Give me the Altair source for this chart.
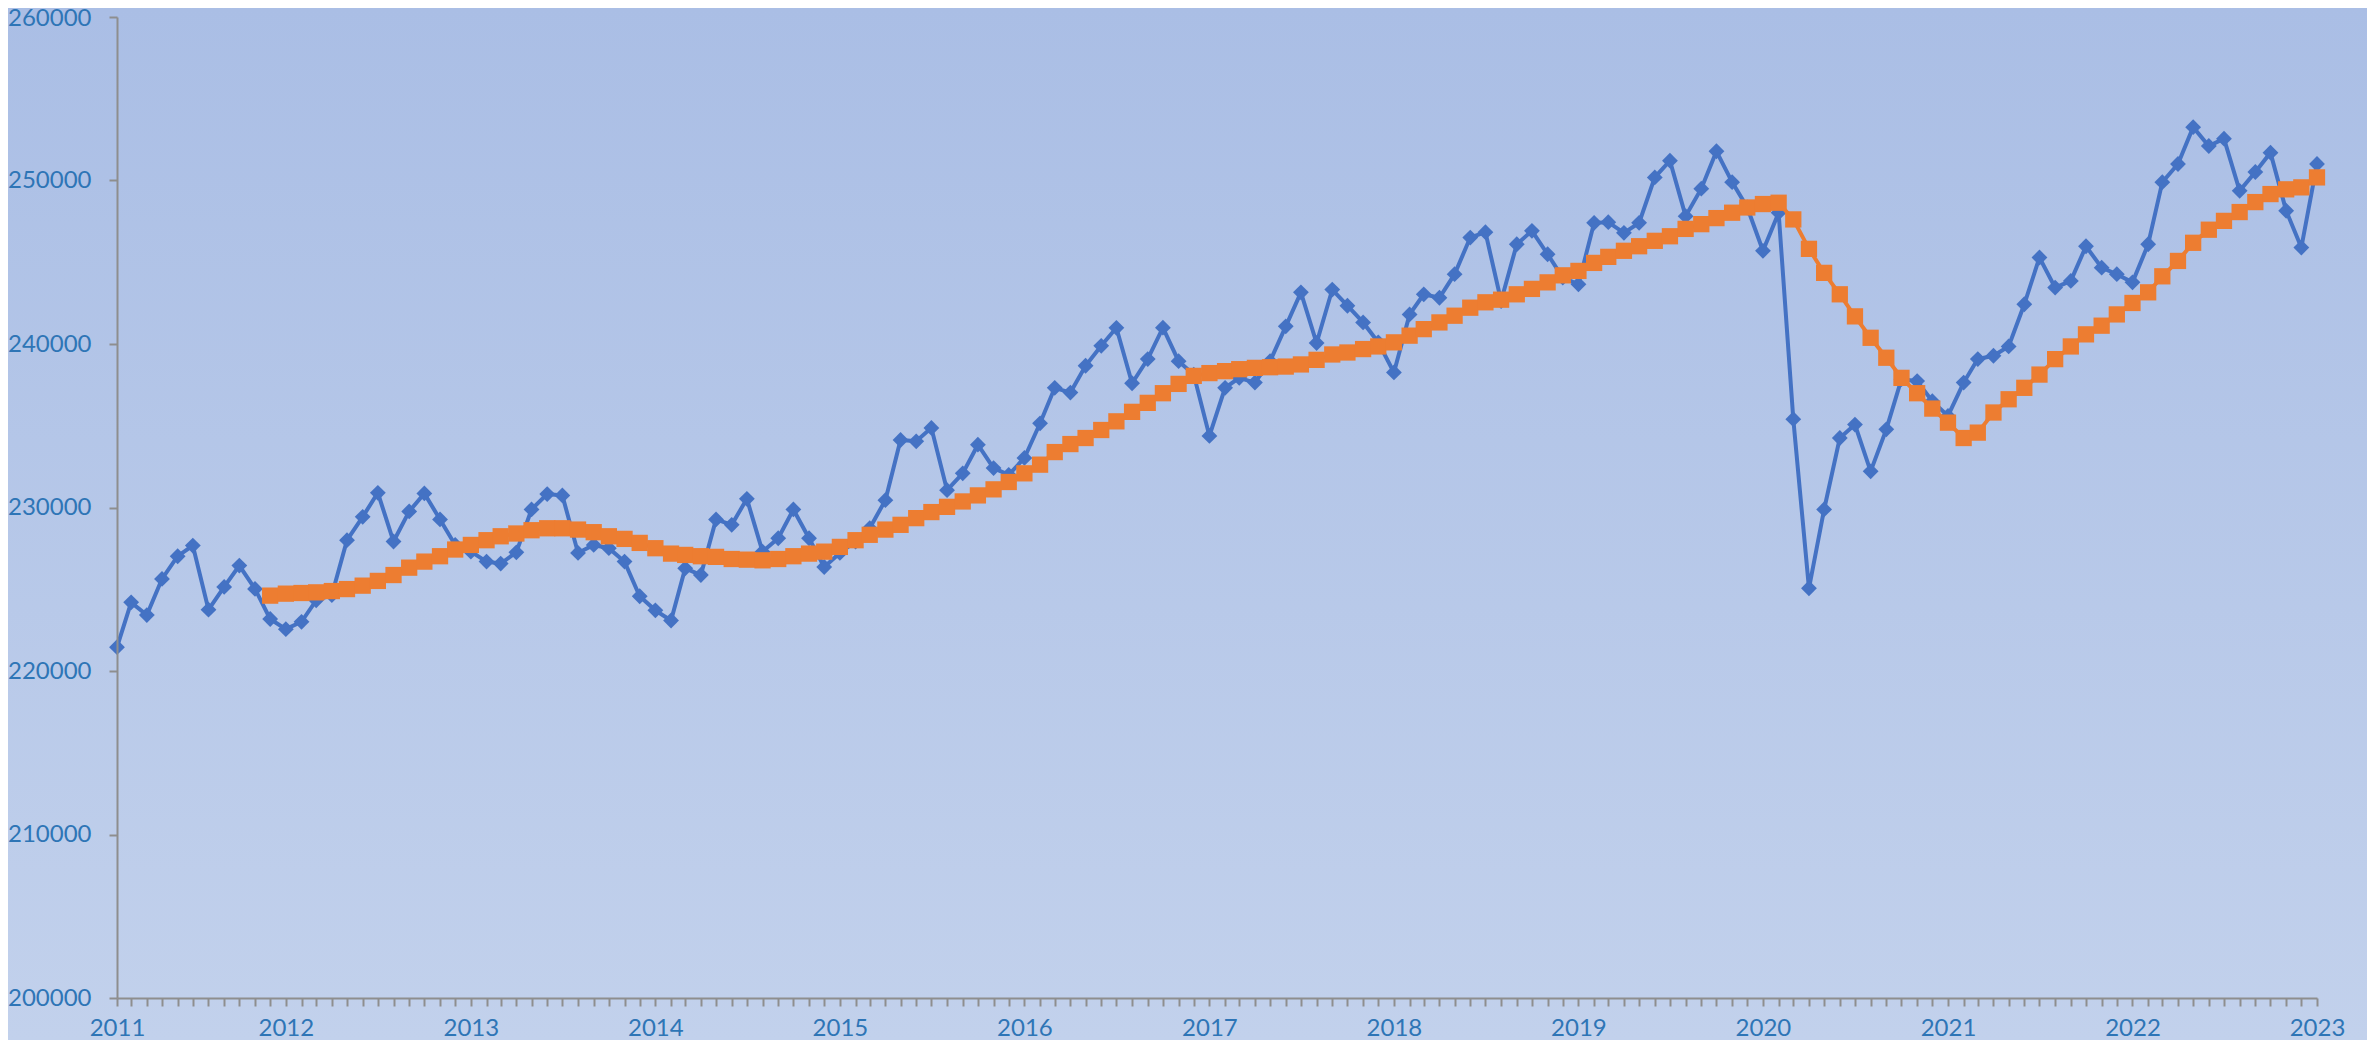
import altair as alt
import pandas as pd

# ---- data ----
first_month = "2011-02-01"
blue_values = [
    221460, 224200, 223420, 225630, 227020, 227670, 223750, 225140, 226450, 225020,
    223180, 222560, 223010, 224320, 224650, 228000, 229430, 230900, 227920, 229760,
    230860, 229270, 227710, 227300, 226690, 226570, 227260, 229880, 230820, 230740,
    227220, 227710, 227510, 226690, 224570, 223710, 223090, 226280, 225870, 229270,
    228940, 230530, 227300, 228120, 229880, 228120, 226360, 227220, 227920, 228730,
    230450, 234130, 234050, 234870, 231060, 232090, 233840, 232410, 232000, 233030,
    235150, 237320, 237030, 238670, 239890, 240990, 237600, 239080, 241000, 238950,
    238130, 234380, 237320, 237930, 237640, 238950, 241080, 243160, 240060, 243330,
    242340, 241320, 240100, 238260, 241810, 243040, 242830, 244270, 246510, 246840,
    242630, 246100, 246920, 245490, 244060, 243650, 247410, 247450, 246800, 247410,
    250190, 251210, 247820, 249500, 251790, 249900, 248350, 245700, 248030, 235400,
    225060, 229880, 234250, 235070, 232210, 234780, 237850, 237730, 236500, 235600,
    237640, 239080, 239280, 239850, 242430, 245290, 243450, 243860, 245980, 244670,
    244270, 243770, 246100, 249900, 251010, 253260, 252110, 252560, 249370, 250520,
    251700, 248150, 245900, 251010,
]

orange_first_month = "2011-12-01"
orange_values = [
    224610, 224730, 224770, 224810, 224890, 225010, 225220, 225510, 225870, 226320,
    226690, 227020, 227430, 227710, 228000, 228240, 228410, 228610, 228730, 228730,
    228650, 228490, 228240, 228080, 227835, 227510, 227180, 227100, 227020, 226980,
    226850, 226810, 226770, 226850, 227020, 227180, 227300, 227590, 228000, 228330,
    228650, 228940, 229350, 229720, 230040, 230370, 230740, 231110, 231560, 232090,
    232620, 233390, 233880, 234250, 234740, 235270, 235850, 236400, 236990, 237560,
    238050, 238220, 238340, 238460, 238540, 238580, 238620, 238750, 239030, 239360,
    239480, 239690, 239850, 240100, 240510, 240910, 241320, 241730, 242220, 242550,
    242710, 243040, 243370, 243770, 244200, 244470, 244960, 245330, 245700, 245980,
    246310, 246590, 247040, 247330, 247700, 248030, 248350, 248560, 248640, 247620,
    245820, 244350, 243040, 241690, 240380, 239160, 237930, 236990, 236050, 235190,
    234250, 234580, 235810, 236620, 237320, 238130, 239075, 239850, 240590, 241120,
    241810, 242510, 243160, 244140, 245080, 246190, 246990, 247530, 248070, 248680,
    249170, 249460, 249580, 250190,
]

y_ticks = [200000, 210000, 220000, 230000, 240000, 250000, 260000]


def to_ms(idx):
    return [int((t - pd.Timestamp("1970-01-01")) // pd.Timedelta("1ms")) for t in idx]


blue_months = pd.date_range(first_month, periods=len(blue_values), freq="MS")
orange_months = pd.date_range(orange_first_month, periods=len(orange_values), freq="MS")
blue_ms = to_ms(blue_months)
orange_ms = to_ms(orange_months)

df_blue = pd.DataFrame({"t": blue_ms, "v": blue_values})
df_orange = pd.DataFrame({"t": orange_ms, "v": orange_values})

W, H = 2200, 981
PAD = {"left": 109, "top": 9, "right": 50, "bottom": 42}

label_color = "#2E75B6"
axis_color = "#8E8E8E"
font = "Lato"

x_scale = alt.Scale(type="utc", domain=[blue_ms[0], blue_ms[-1]])
y_scale = alt.Scale(domain=[200000, 260000], nice=False, zero=False)

x_axis = alt.Axis(
    values=blue_ms,
    labelExpr=("(utcmonth(datum.value) == 0 || (utcyear(datum.value) == 2011 && "
               "utcmonth(datum.value) == 1)) ? utcFormat(datum.value, '%Y') : ''"),
    title=None, grid=False, tickSize=8, tickWidth=2, tickColor=axis_color,
    domainColor=axis_color, domainWidth=2, labelColor=label_color,
    labelFont=font, labelFontSize=24, labelPadding=10, labelOverlap=False,
    labelFlush=False, labelBound=False, zindex=1,
)
y_axis = alt.Axis(
    values=y_ticks, format="d", title=None, grid=False, tickSize=8, tickWidth=2,
    tickColor=axis_color, domainColor=axis_color, domainWidth=2,
    labelColor=label_color, labelFont=font, labelFontSize=24, labelPadding=18,
    labelOffset={"condition": {"test": "datum.value == 260000", "value": 1}, "value": 0},
    zindex=1,
)

bg = alt.Chart(pd.DataFrame({"a": [0]})).mark_rect(
    clip=False,
    fill={
        "gradient": "linear", "x1": 0, "y1": 0, "x2": 0, "y2": 1,
        "stops": [
            {"offset": 0, "color": "#AABEE5"},
            {"offset": 1, "color": "#C2D1EC"},
        ],
    },
).encode(
    x=alt.value(-PAD["left"]), x2=alt.value(W + PAD["right"]),
    y=alt.value(-PAD["top"]), y2=alt.value(H + PAD["bottom"]),
)

bx = alt.X("t:T", scale=x_scale, axis=x_axis)
by = alt.Y("v:Q", scale=y_scale, axis=y_axis)

blue_line = alt.Chart(df_blue).mark_line(color="#4472C4", strokeWidth=4).encode(x=bx, y=by)
blue_pts = alt.Chart(df_blue).mark_point(
    shape="diamond", filled=True, size=250, color="#4472C4", opacity=1
).encode(x=bx, y=by)

orange_line = alt.Chart(df_orange).mark_line(color="#ED7D31", strokeWidth=4).encode(x=bx, y=by)
orange_pts = alt.Chart(df_orange).mark_point(
    shape="square", filled=True, size=265, color="#ED7D31", opacity=1
).encode(x=bx, y=by)

chart = alt.layer(bg, blue_line, blue_pts, orange_line, orange_pts).properties(
    width=W, height=H, autosize=alt.AutoSizeParams(type="none"), padding=PAD,
    background="#B6C8E9",
).configure_view(stroke=None)

chart.save("out.html", embed_options={"renderer": "svg", "actions": False})
